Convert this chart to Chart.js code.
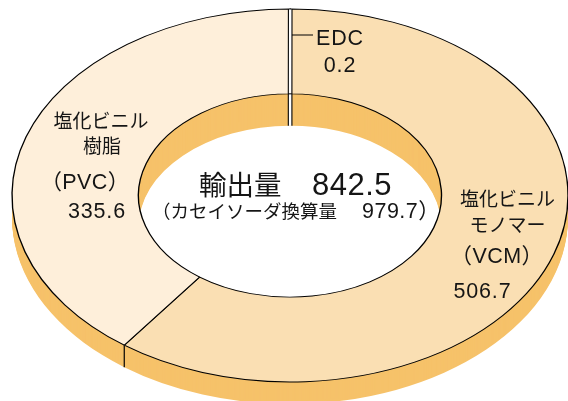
<!DOCTYPE html>
<html><head><meta charset="utf-8">
<script src="https://cdn.jsdelivr.net/npm/chart.js@4"></script>
<style>html,body{margin:0;padding:0;background:#fff;overflow:hidden}#c{display:block}</style>
</head><body>
<canvas id="c" width="568" height="401"></canvas>
<script>
// ---- data ----
const categories = ['EDC', '塩化ビニルモノマー（VCM）', '塩化ビニル樹脂（PVC）'];
const values = [0.2, 506.7, 335.6];
const totalTitle = '輸出量';
const totalValue = '842.5';
const causticTitle = '（カセイソーダ換算量';
const causticValue = '979.7）';
const faceColors = ['#ffffff', '#FADFB3', '#FEEFDA'];
const sideColor = '#F6C26A';

// ---- geometry of the tilted ring (screen space) ----
const CX = 290, CY = 195.5, RX = 278, RY = 186.5, DEPTH = 22, INNER_DEPTH = 32;
const LAT = '"Liberation Sans", Arial, sans-serif';
const CJK = '"Noto Sans CJK JP", sans-serif';

function geom(chart) {
  const a = chart.getDatasetMeta(0).data[0];
  return { x: a.x, y: a.y, R: a.outerRadius };
}
function applyT(ctx, g) {
  ctx.translate(CX, CY);
  ctx.scale(RX / g.R, RY / g.R);
  ctx.translate(-g.x, -g.y);
}
function toScreen(g, px, py) {
  return [CX + (px - g.x) * RX / g.R, CY + (py - g.y) * RY / g.R];
}
function sectorPath(ctx, a) {
  ctx.beginPath();
  ctx.arc(a.x, a.y, a.outerRadius, a.startAngle, a.endAngle);
  ctx.arc(a.x, a.y, a.innerRadius, a.endAngle, a.startAngle, true);
  ctx.closePath();
}
function txt(ctx, s, x, y, size, fam, align, spacing) {
  ctx.font = size + 'px ' + fam;
  ctx.textAlign = align || 'center';
  ctx.textBaseline = 'alphabetic';
  ctx.letterSpacing = spacing || '0px';
  ctx.fillText(s, x, y);
  ctx.letterSpacing = '0px';
}

const pseudo3d = {
  id: 'pseudo3d',
  beforeDatasetsDraw(chart) {
    const ctx = chart.ctx, g = geom(chart), arcs = chart.getDatasetMeta(0).data;
    const base = ctx.getTransform();
    for (let d = INNER_DEPTH; d >= 1; d--) {
      ctx.save();
      if (d > DEPTH) {
        applyT(ctx, g);
        ctx.beginPath();
        ctx.arc(g.x, g.y, arcs[0].innerRadius, 0, Math.PI * 2);
        ctx.clip();
        ctx.setTransform(base);
      }
      ctx.translate(0, d);
      applyT(ctx, g);
      ctx.fillStyle = sideColor;
      arcs.forEach(a => { sectorPath(ctx, a); ctx.fill(); });
      ctx.restore();
    }
    ctx.save();
    ctx.strokeStyle = '#000';
    ctx.lineWidth = 1.2;
    arcs.forEach(a => {
      const s = a.startAngle;
      if (Math.sin(s) > 0.05) {
        const p = toScreen(g, a.x + a.outerRadius * Math.cos(s), a.y + a.outerRadius * Math.sin(s));
        ctx.beginPath(); ctx.moveTo(p[0], p[1]); ctx.lineTo(p[0], p[1] + DEPTH); ctx.stroke();
      }
    });
    ctx.restore();
    ctx.save();
    applyT(ctx, g);
  },
  afterDatasetsDraw(chart) {
    const ctx = chart.ctx, g = geom(chart), arcs = chart.getDatasetMeta(0).data;
    ctx.restore();
    arcs.forEach(a => {
      if (a.circumference < 0.02) {
        const m = (a.startAngle + a.endAngle) / 2;
        const po = toScreen(g, a.x + a.outerRadius * Math.cos(m), a.y + a.outerRadius * Math.sin(m));
        const pi = toScreen(g, a.x + a.innerRadius * Math.cos(m), a.y + a.innerRadius * Math.sin(m));
        const bottom = pi[1] + (Math.sin(m) < 0 ? INNER_DEPTH : 0);
        const h = 1.8;
        ctx.save();
        ctx.fillStyle = '#fff';
        ctx.beginPath();
        ctx.moveTo(po[0] - h, po[1] + 0.6); ctx.lineTo(po[0] + h, po[1] + 0.6);
        ctx.lineTo(pi[0] + h, bottom); ctx.lineTo(pi[0] - h, bottom);
        ctx.closePath(); ctx.fill();
        ctx.strokeStyle = '#000'; ctx.lineWidth = 1.1;
        [-h, h].forEach(o => {
          ctx.beginPath(); ctx.moveTo(po[0] + o, po[1]); ctx.lineTo(pi[0] + o, pi[1]);
          ctx.lineTo(pi[0] + o, bottom); ctx.stroke();
        });
        ctx.lineWidth = 1;
        ctx.beginPath(); ctx.moveTo(pi[0] - h, pi[1]); ctx.lineTo(pi[0] + h, pi[1]); ctx.stroke();
        // leader line to EDC label
        const ly = 35;
        const t = (ly - po[1]) / (pi[1] - po[1]);
        const lx = po[0] + (pi[0] - po[0]) * t + h;
        ctx.beginPath(); ctx.moveTo(lx, ly); ctx.lineTo(313, ly); ctx.stroke();
        ctx.restore();
      }
    });
  },
  afterDraw(chart) {
    const ctx = chart.ctx;
    ctx.save();
    ctx.fillStyle = '#151515';
    const sp = '0.8px';
    // EDC
    txt(ctx, 'EDC', 316, 45, 21.5, LAT, 'left', sp);
    txt(ctx, values[0].toFixed(1), 340, 72, 21.5, LAT, 'center', sp);
    // PVC
    txt(ctx, '塩化ビニル', 101, 128, 19, CJK);
    txt(ctx, '樹脂', 102, 153, 19, CJK);
    txt(ctx, '（PVC）', 85, 189, 21.5, LAT + ', ' + CJK, 'center', '0.4px');
    txt(ctx, values[2].toFixed(1), 97, 217.5, 21.5, LAT, 'center', sp);
    // VCM
    txt(ctx, '塩化ビニル', 507.5, 206, 19, CJK);
    txt(ctx, 'モノマー', 507.5, 232, 19, CJK);
    txt(ctx, '（VCM）', 497, 263, 21.5, LAT + ', ' + CJK, 'center', '0.4px');
    txt(ctx, values[1].toFixed(1), 482.5, 297.5, 21.5, LAT, 'center', sp);
    // center
    txt(ctx, totalTitle, 199, 195, 27.5, CJK, 'left');
    txt(ctx, totalValue, 312, 195, 31, LAT, 'left', '0.5px');
    txt(ctx, causticTitle, 337, 218, 18.5, CJK, 'right');
    txt(ctx, causticValue, 362, 218, 21.5, LAT + ', ' + CJK, 'left', '0.5px');
    ctx.restore();
  }
};

new Chart(document.getElementById('c'), {
  type: 'doughnut',
  data: {
    labels: categories,
    datasets: [{
      data: values,
      backgroundColor: faceColors,
      borderColor: '#000',
      borderWidth: 0.95,
      clip: false
    }]
  },
  options: {
    responsive: false,
    animation: false,
    cutout: '54.5%',
    layout: { padding: { left: 95, right: 83, top: 5, bottom: 6 } },
    plugins: { legend: { display: false }, tooltip: { enabled: false } },
    events: []
  },
  plugins: [pseudo3d]
});
</script>
</body></html>
